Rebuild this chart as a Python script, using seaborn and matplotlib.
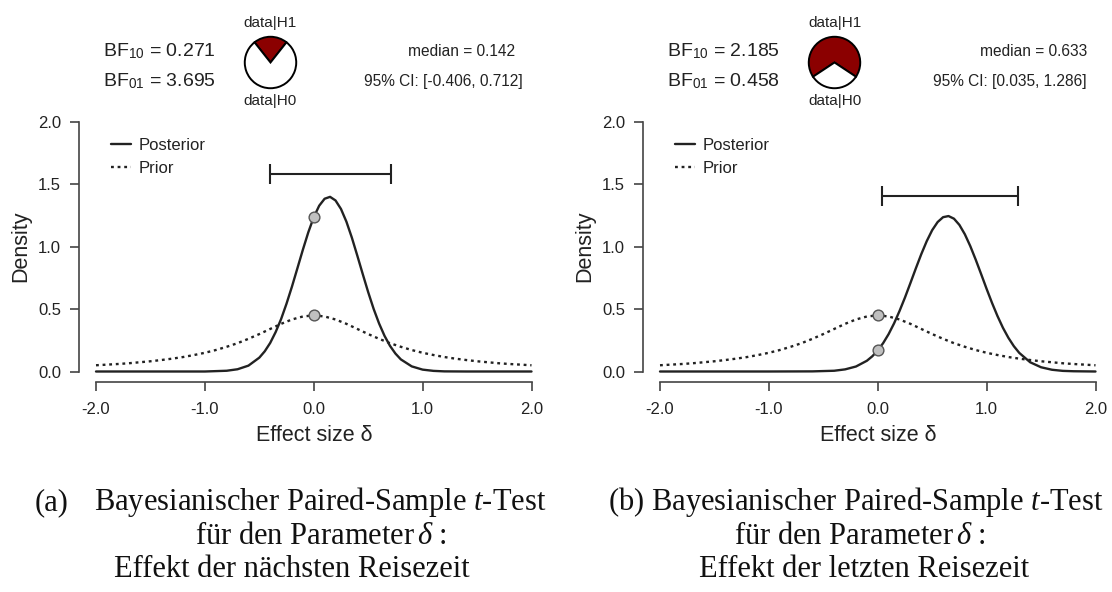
import matplotlib
matplotlib.use("Agg")
import matplotlib.pyplot as plt
import numpy as np
import seaborn as sns

# prior (same on both panels)
prior_x = [-2.0, -1.9, -1.8, -1.7, -1.6, -1.5, -1.4, -1.3, -1.2, -1.1, -1.0,
           -0.9, -0.8, -0.7, -0.6, -0.5, -0.4, -0.3, -0.2, -0.1, 0.0,
           0.1, 0.2, 0.3, 0.4, 0.5, 0.6, 0.7, 0.8, 0.9, 1.0,
           1.1, 1.2, 1.3, 1.4, 1.5, 1.6, 1.7, 1.8, 1.9, 2.0]
prior_y = [0.050, 0.055, 0.060, 0.066, 0.074, 0.082, 0.092, 0.103, 0.116, 0.132, 0.150,
           0.172, 0.198, 0.227, 0.262, 0.300, 0.341, 0.382, 0.417, 0.441, 0.450,
           0.441, 0.417, 0.382, 0.341, 0.300, 0.262, 0.227, 0.198, 0.172, 0.150,
           0.132, 0.116, 0.103, 0.092, 0.082, 0.074, 0.066, 0.060, 0.055, 0.050]

# posterior (a): naechste Reisezeit
post_a_x = [-2.0, -1.2, -1.0, -0.8, -0.7, -0.6, -0.5, -0.45, -0.4, -0.35, -0.3, -0.25,
            -0.2, -0.15, -0.1, -0.05, 0.0, 0.05, 0.1, 0.15, 0.2, 0.25, 0.3, 0.35,
            0.4, 0.45, 0.5, 0.55, 0.6, 0.65, 0.7, 0.75, 0.8, 0.9, 1.0, 1.1, 1.2, 1.4, 2.0]
post_a_y = [0.000, 0.000, 0.000, 0.006, 0.018, 0.047, 0.111, 0.162, 0.229, 0.316, 0.420, 0.544,
            0.681, 0.828, 0.976, 1.116, 1.237, 1.329, 1.385, 1.400, 1.371, 1.303, 1.201, 1.073,
            0.929, 0.781, 0.636, 0.502, 0.385, 0.286, 0.206, 0.144, 0.097, 0.041, 0.015, 0.005,
            0.001, 0.000, 0.000]

# posterior (b): letzte Reisezeit
post_b_x = [-2.0, -1.0, -0.6, -0.4, -0.3, -0.2, -0.1, -0.05,
            0.0, 0.05, 0.1, 0.15, 0.2, 0.25, 0.3, 0.35, 0.4, 0.45, 0.5, 0.55, 0.6, 0.65,
            0.7, 0.75, 0.8, 0.85, 0.9, 0.95, 1.0, 1.05, 1.1, 1.15, 1.2, 1.25, 1.3,
            1.4, 1.5, 1.6, 1.7, 1.8, 2.0]
post_b_y = [0.000, 0.000, 0.001, 0.006, 0.017, 0.040, 0.086, 0.122,
            0.169, 0.228, 0.300, 0.386, 0.485, 0.593, 0.709, 0.827, 0.941, 1.045, 1.133, 1.198,
            1.237, 1.246, 1.225, 1.175, 1.100, 1.005, 0.896, 0.780, 0.662, 0.549, 0.444, 0.350,
            0.270, 0.203, 0.149, 0.074, 0.034, 0.014, 0.005, 0.002, 0.000]

bf10 = [0.271, 2.185]
bf01 = [3.695, 0.458]
medians = [0.142, 0.633]
ci_low = [-0.406, 0.035]
ci_high = [0.712, 1.286]

x_ticks = [-2.0, -1.0, 0.0, 1.0, 2.0]
y_ticks = [0.0, 0.5, 1.0, 1.5, 2.0]

caption_line1 = ["Bayesianischer Paired-Sample $t$-Test", "(b) Bayesianischer Paired-Sample $t$-Test"]
caption_line2 = ["für den Parameter$\\,\\delta$ :", "für den Parameter$\\,\\delta$ :"]
caption_line3 = ["Effekt der nächsten Reisezeit", "Effekt der letzten Reisezeit"]

sns.set_theme(style="ticks")
plt.rcParams["font.family"] = ["Liberation Sans", "DejaVu Sans"]
plt.rcParams["mathtext.fontset"] = "custom"
plt.rcParams["mathtext.rm"] = "Liberation Sans"
plt.rcParams["mathtext.it"] = "Liberation Serif:italic"
plt.rcParams["mathtext.bf"] = "Liberation Sans:bold"

W, H = 1112, 592
fig = plt.figure(figsize=(W / 100, H / 100), dpi=100)
fig.patch.set_facecolor("white")

ink = "#222222"
spine_col = "#444444"

# pixel layout of the two panels
layout = [
    dict(ax_left=96, bf_x=103, pie_cx=270.5, med_right=515, ci_right=523),
    dict(ax_left=660, bf_x=667, pie_cx=834.5, med_right=1087, ci_right=1087),
]
posts = [(post_a_x, post_a_y), (post_b_x, post_b_y)]
ax_top, ax_bottom, ax_w = 122.0, 371.5, 435.5

for i, lay in enumerate(layout):
    ax = fig.add_axes([lay["ax_left"] / W, 1 - ax_bottom / H, ax_w / W, (ax_bottom - ax_top) / H])
    ax.set_facecolor("white")
    px, py = posts[i]

    sns.lineplot(x=px, y=py, ax=ax, color=ink, lw=1.7, label="Posterior", clip_on=False)
    sns.lineplot(x=prior_x, y=prior_y, ax=ax, color=ink, lw=1.7, linestyle=(0, (1.2, 1.6)),
                 label="Prior", clip_on=False)

    # Savage-Dickey points at delta = 0
    p0 = py[px.index(0.0)]
    q0 = prior_y[prior_x.index(0.0)]
    sns.scatterplot(x=[0.0, 0.0], y=[p0, q0], ax=ax, s=60, color="#c0c0c0",
                    edgecolor="#555555", linewidth=1.0, zorder=5, clip_on=False, legend=False)

    # credible interval bar
    ci_y = 1.13 * max(py)
    ax.errorbar(medians[i], ci_y, xerr=[[medians[i] - ci_low[i]], [ci_high[i] - medians[i]]],
                fmt="none", ecolor=ink, elinewidth=1.5, capsize=7.2, capthick=1.5)

    ax.set_xlim(-2, 2)
    ax.set_ylim(0, 2)
    ax.set_xticks(x_ticks)
    ax.set_xticklabels([f"{t:.1f}" for t in x_ticks])
    ax.set_yticks(y_ticks)
    ax.set_yticklabels([f"{t:.1f}" for t in y_ticks])
    sns.despine(ax=ax)
    ax.spines["left"].set_position(("outward", 12))
    ax.spines["bottom"].set_position(("outward", 7.4))
    ax.spines["left"].set_bounds(0, 2)
    ax.spines["bottom"].set_bounds(-2, 2)
    for s in ("left", "bottom"):
        ax.spines[s].set_color(spine_col)
        ax.spines[s].set_linewidth(1.2)
    ax.tick_params(axis="both", length=6.7, width=1.2, color=spine_col, labelsize=12,
                   labelcolor=ink)
    ax.tick_params(axis="y", pad=6.5)
    ax.tick_params(axis="x", pad=8)
    ax.grid(False)

    ax.set_xlabel("Effect size δ", fontsize=15.5, color=ink)
    ax.set_ylabel("Density", fontsize=15.5, color=ink)
    ax.xaxis.set_label_coords(0.5, -0.215)
    ax.yaxis.set_label_coords(-65 / ax_w, 0.5)

    leg = ax.legend(loc="upper left", bbox_to_anchor=(0.035, 0.935), frameon=False,
                    fontsize=12, handlelength=1.2, handletextpad=0.45, labelspacing=0.45,
                    borderpad=0, borderaxespad=0)
    for t in leg.get_texts():
        t.set_color(ink)

    # header: Bayes factors
    fig.text(lay["bf_x"] / W, 1 - 56.8 / H, f"BF$_{{10}}$ = {bf10[i]:.3f}", fontsize=14,
             color=ink, ha="left", va="baseline")
    fig.text(lay["bf_x"] / W, 1 - 86 / H, f"BF$_{{01}}$ = {bf01[i]:.3f}", fontsize=14,
             color=ink, ha="left", va="baseline")

    # header: median and CI
    fig.text(lay["med_right"] / W, 1 - 56.5 / H, f"median = {medians[i]:.3f}", fontsize=11.2,
             color=ink, ha="right", va="baseline")
    fig.text(lay["ci_right"] / W, 1 - 86 / H, f"95% CI: [{ci_low[i]:.3f}, {ci_high[i]:.3f}]",
             fontsize=11.2, color=ink, ha="right", va="baseline")

    # header: pie of evidence
    r = 26.5
    pax = fig.add_axes([(lay["pie_cx"] - r) / W, 1 - (62.5 + r) / H, 2 * r / W, 2 * r / H])
    p1 = bf10[i] / (1 + bf10[i])
    pax.pie([p1, 1 - p1], colors=["#8b0000", "white"], startangle=90 - 180 * p1,
            counterclock=True, wedgeprops=dict(edgecolor="black", linewidth=1.4))
    pax.set_xlim(-1.03, 1.03)
    pax.set_ylim(-1.03, 1.03)
    pax.set_aspect("auto")
    pax.axis("off")
    fig.text(lay["pie_cx"] / W, 1 - 26.7 / H, "data|H1", fontsize=11, color=ink,
             ha="center", va="baseline")
    fig.text(lay["pie_cx"] / W, 1 - 105 / H, "data|H0", fontsize=11, color=ink,
             ha="center", va="baseline")

# captions
cap_kw = dict(fontsize=22, color="#111111", va="baseline", family="Liberation Serif")
fig.text(35 / W, 1 - 510 / H, "(a)", ha="left", **cap_kw)
fig.text(94 / W, 1 - 510 / H, caption_line1[0], ha="left", **cap_kw)
fig.text(608 / W, 1 - 510 / H, caption_line1[1], ha="left", **cap_kw)
fig.text(321 / W, 1 - 544 / H, caption_line2[0], ha="center", **cap_kw)
fig.text(860 / W, 1 - 544 / H, caption_line2[1], ha="center", **cap_kw)
fig.text(292 / W, 1 - 577 / H, caption_line3[0], ha="center", **cap_kw)
fig.text(864 / W, 1 - 577 / H, caption_line3[1], ha="center", **cap_kw)

fig.savefig("out.png", dpi=100, facecolor="white")
